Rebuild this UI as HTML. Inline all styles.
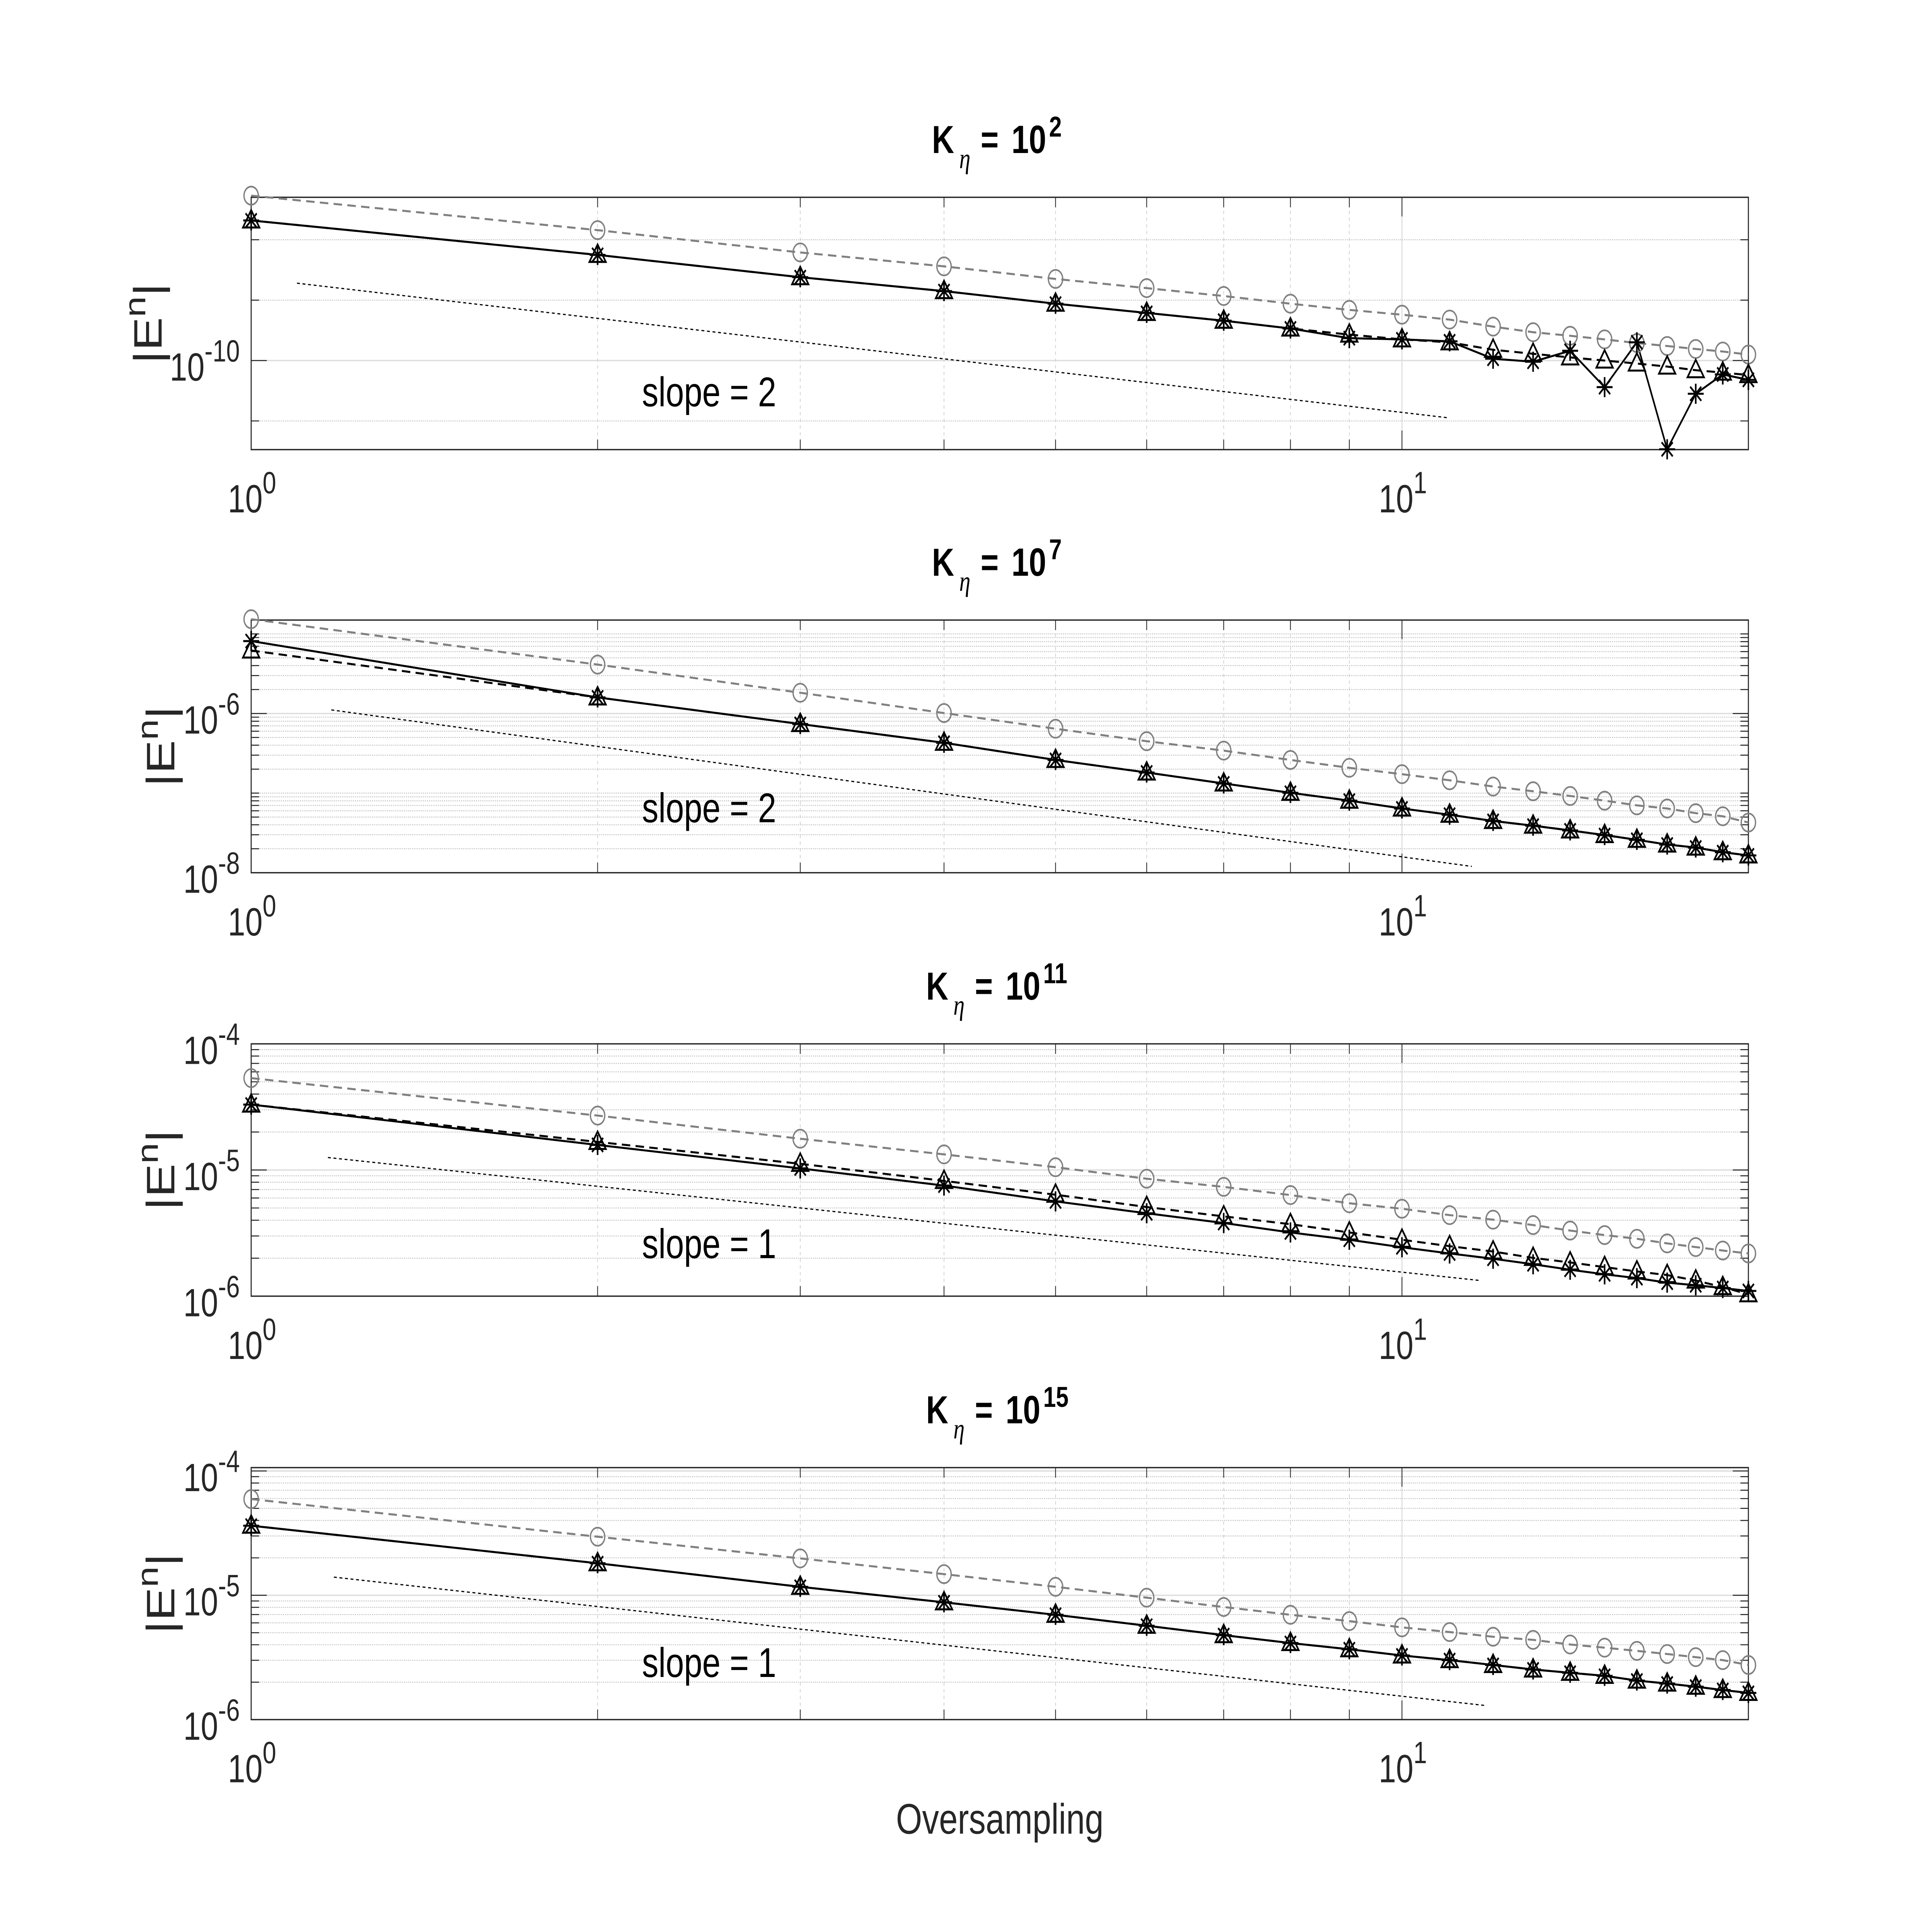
<!DOCTYPE html>
<html>
<head>
<meta charset="utf-8">
<style>
  html,body{margin:0;padding:0;background:#fff;width:100%;height:100%;overflow:hidden;}
  svg{display:block;width:100%;height:100%;}
  text{font-family:"Liberation Sans",Arial,sans-serif;fill:#262626;}
</style>
</head>
<body>
<svg id="fig" xmlns="http://www.w3.org/2000/svg" viewBox="0 0 7292 5758" preserveAspectRatio="none">
  <rect x="0" y="0" width="7292" height="5758" fill="#ffffff"/>
</svg>
<script>
// ---------- data ----------
const oversampling = [1,2,3,4,5,6,7,8,9,10,11,12,13,14,15,16,17,18,19,20];
const titleExponents = ["2","7","11","15"];
const slopeLabels = ["slope = 2","slope = 2","slope = 1","slope = 1"];

const p1Circle = [1.875e-10,1.644e-10,1.510e-10,1.432e-10,1.365e-10,1.318e-10,1.279e-10,1.242e-10,1.213e-10,1.191e-10,1.169e-10,1.138e-10,1.114e-10,1.099e-10,1.084e-10,1.069e-10,1.057e-10,1.045e-10,1.035e-10,1.023e-10];
const p1Tri = [1.706e-10,1.496e-10,1.374e-10,1.303e-10,1.242e-10,1.199e-10,1.164e-10,1.130e-10,1.104e-10,1.084e-10,1.072e-10,1.042e-10,1.026e-10,1.012e-10,1.000e-10,0.9886e-10,0.9772e-10,0.9638e-10,0.9550e-10,0.9462e-10];
const p1Star = [1.706e-10,1.496e-10,1.374e-10,1.303e-10,1.242e-10,1.199e-10,1.164e-10,1.130e-10,1.089e-10,1.084e-10,1.076e-10,1.007e-10,0.9954e-10,1.038e-10,0.9036e-10,1.072e-10,0.7129e-10,0.8810e-10,0.9484e-10,0.9290e-10];

const p2Circle = [1.531e-5,4.12e-6,1.824e-6,1.014e-6,6.44e-7,4.49e-7,3.42e-7,2.61e-7,2.08e-7,1.73e-7,1.45e-7,1.21e-7,1.055e-7,9.21e-8,8.04e-8,7.02e-8,6.41e-8,5.60e-8,5.12e-8,4.27e-8];
const p2Tri = [6.19e-6,1.593e-6,7.38e-7,4.29e-7,2.61e-7,1.815e-7,1.322e-7,1.009e-7,8.04e-8,6.41e-8,5.35e-8,4.47e-8,3.90e-8,3.40e-8,2.97e-8,2.59e-8,2.26e-8,2.07e-8,1.81e-8,1.65e-8];
const p2Star = [8.13e-6,1.593e-6,7.38e-7,4.29e-7,2.61e-7,1.815e-7,1.322e-7,1.009e-7,8.04e-8,6.41e-8,5.35e-8,4.47e-8,3.90e-8,3.40e-8,2.97e-8,2.59e-8,2.26e-8,2.07e-8,1.81e-8,1.65e-8];

const p3Circle = [5.35e-5,2.70e-5,1.77e-5,1.33e-5,1.052e-5,8.53e-6,7.35e-6,6.33e-6,5.45e-6,4.93e-6,4.39e-6,4.04e-6,3.66e-6,3.31e-6,3.05e-6,2.85e-6,2.62e-6,2.45e-6,2.30e-6,2.18e-6];
const p3Tri = [3.30e-5,1.67e-5,1.12e-5,8.20e-6,6.37e-6,5.09e-6,4.29e-6,3.72e-6,3.20e-6,2.80e-6,2.49e-6,2.26e-6,2.01e-6,1.85e-6,1.70e-6,1.57e-6,1.47e-6,1.33e-6,1.18e-6,1.035e-6];
const p3Star = [3.30e-5,1.58e-5,1.03e-5,7.53e-6,5.64e-6,4.54e-6,3.80e-6,3.20e-6,2.80e-6,2.44e-6,2.18e-6,1.98e-6,1.79e-6,1.62e-6,1.49e-6,1.39e-6,1.28e-6,1.22e-6,1.16e-6,1.10e-6];

const p4Circle = [5.94e-5,2.96e-5,1.98e-5,1.48e-5,1.17e-5,9.57e-6,8.05e-6,6.97e-6,6.20e-6,5.52e-6,5.06e-6,4.64e-6,4.38e-6,4.02e-6,3.79e-6,3.57e-6,3.37e-6,3.18e-6,3.01e-6,2.75e-6];
const p4Tri = [3.63e-5,1.81e-5,1.17e-5,8.78e-6,6.97e-6,5.69e-6,4.78e-6,4.13e-6,3.68e-6,3.28e-6,3.01e-6,2.75e-6,2.53e-6,2.38e-6,2.25e-6,2.06e-6,1.95e-6,1.84e-6,1.73e-6,1.64e-6];
const p4Star = [3.63e-5,1.81e-5,1.17e-5,8.78e-6,6.97e-6,5.69e-6,4.78e-6,4.13e-6,3.68e-6,3.28e-6,3.01e-6,2.75e-6,2.53e-6,2.38e-6,2.25e-6,2.06e-6,1.95e-6,1.84e-6,1.73e-6,1.64e-6];

const slopeX = [[1.096,10.96],[1.174,11.5],[1.166,11.7],[1.18,11.8]];
const slopeY = [[1.343e-10,8.04e-11],[1.11e-6,1.20e-8],[1.256e-5,1.33e-6],[1.40e-5,1.30e-6]];
const slopeLabelPos = [[2.5,8.4e-11],[2.5,4.3e-8],[2.5,2.0e-6],[2.5,2.2e-6]];

const yLabelTicks = [[1e-10],[1e-6,1e-8],[1e-4,1e-5,1e-6],[1e-4,1e-5,1e-6]];
const yLabelTexts = [["-10"],["-6","-8"],["-4","-5","-6"],["-4","-5","-6"]];
const p1MinorGrid = [1.5849e-10,1.2589e-10,0.7943e-10];
const xMajorTicks = [1,10];
const xMajorLabels = ["0","1"];
const xMinorTicks = [2,3,4,5,6,7,8,9];

const circleSeries = [p1Circle,p2Circle,p3Circle,p4Circle];
const triSeries = [p1Tri,p2Tri,p3Tri,p4Tri];
const starSeries = [p1Star,p2Star,p3Star,p4Star];

// ---------- layout ----------
const X0 = 948, X1 = 6599, XMAX = 20;
const panels = [
  {top:588, bottom:1340, logTop:-9.7297, logBot:-10.1475, ylabX:610},
  {top:1848, bottom:2601, logTop:-4.826, logBot:-8, ylabX:658},
  {top:3111, bottom:3863, logTop:-4, logBot:-6, ylabX:658},
  {top:4374, bottom:5125, logTop:-3.973, logBot:-6, ylabX:658}
];
const NS = "http://www.w3.org/2000/svg";
const svg = document.getElementById('fig');
function el(tag, attrs, parent){
  const e = document.createElementNS(NS, tag);
  for (const k in attrs) e.setAttribute(k, attrs[k]);
  (parent||svg).appendChild(e);
  return e;
}
function xScale(v){ return X0 + (X1-X0)*Math.log10(v)/Math.log10(XMAX); }
function yScaleFor(p){ return v => p.top + (p.logTop - Math.log10(v))/(p.logTop-p.logBot)*(p.bottom-p.top); }

panels.forEach((p, i) => {
  const y = yScaleFor(p);
  const g = el('g', {});
  
  

  let minorVals = [];
  if (i === 0) minorVals = p1MinorGrid;
  else {
    for (let d = Math.floor(p.logBot); d <= Math.ceil(p.logTop); d++) {
      for (let m = 1; m <= 9; m++) {
        const v = m*Math.pow(10,d);
        const lv = Math.log10(v);
        if (lv < p.logBot+1e-6 || lv > p.logTop-1e-6) continue;
        if (yLabelTicks[i].some(t => Math.abs(Math.log10(t)-lv) < 1e-6)) continue;
        minorVals.push(v);
      }
    }
  }
  minorVals.forEach(v => {
    const yy = y(v);
    const gl = el('line', {x1:X0, x2:X1, y1:yy, y2:yy, stroke:'#c4c4c4', 'stroke-width':3, 'stroke-dasharray':'4 4'}, g);
    
    
    el('line', {x1:X0, x2:X0+30, y1:yy, y2:yy, stroke:'#262626', 'stroke-width':3}, g);
    el('line', {x1:X1, x2:X1-30, y1:yy, y2:yy, stroke:'#262626', 'stroke-width':3}, g);
  });
  yLabelTicks[i].forEach((v, k) => {
    const yy = y(v);
    if (yy > p.top+2 && yy < p.bottom-2) {
      const gl = el('line', {x1:X0, x2:X1, y1:yy, y2:yy, stroke:'#dedede', 'stroke-width':4}, g);
      
      
    }
    el('line', {x1:X0, x2:X0+59, y1:yy, y2:yy, stroke:'#262626', 'stroke-width':3}, g);
    el('line', {x1:X1, x2:X1-59, y1:yy, y2:yy, stroke:'#262626', 'stroke-width':3}, g);
    const t = el('text', {x:905, y:yy+60, 'text-anchor':'end', 'font-size':118}, g);
    
    
    const a = el('tspan', {}, t); a.textContent = '10';
    const b = el('tspan', {dy:-57, 'font-size':92}, t); b.textContent = yLabelTexts[i][k];
  });
  xMinorTicks.forEach(v => {
    const xx = xScale(v);
    const gl = el('line', {x1:xx, x2:xx, y1:p.top, y2:p.bottom, stroke:'#cccccc', 'stroke-width':2.5, 'stroke-dasharray':'10 10'}, g);
    
    
    el('line', {x1:xx, x2:xx, y1:p.top, y2:p.top+30, stroke:'#262626', 'stroke-width':3}, g);
    el('line', {x1:xx, x2:xx, y1:p.bottom, y2:p.bottom-30, stroke:'#262626', 'stroke-width':3}, g);
  });
  xMajorTicks.forEach((v, k) => {
    const xx = xScale(v);
    if (xx > X0+2) {
      el('line', {x1:xx, x2:xx, y1:p.top, y2:p.bottom, stroke:'#dedede', 'stroke-width':4}, g);
    }
    el('line', {x1:xx, x2:xx, y1:p.top, y2:p.top+57, stroke:'#262626', 'stroke-width':3}, g);
    el('line', {x1:xx, x2:xx, y1:p.bottom, y2:p.bottom-57, stroke:'#262626', 'stroke-width':3}, g);
    const t = el('text', {x:xx-88, y:p.bottom+187, 'font-size':118}, g);
    
    
    const a = el('tspan', {}, t); a.textContent = '10';
    const b = el('tspan', {dy:-57, 'font-size':92}, t); b.textContent = xMajorLabels[k];
  });
  const box = el('rect', {x:X0, y:p.top, width:X1-X0, height:p.bottom-p.top, fill:'none', stroke:'#262626', 'stroke-width':4}, g);
  
  

  const sl = el('line', {x1:xScale(slopeX[i][0]), y1:y(slopeY[i][0]), x2:xScale(slopeX[i][1]), y2:y(slopeY[i][1]), stroke:'#000', 'stroke-width':3.5, 'stroke-dasharray':'11 10'}, g);
  
  
  const st = el('text', {x:xScale(slopeLabelPos[i][0]), y:y(slopeLabelPos[i][1]), 'text-anchor':'middle', 'font-size':124, style:'fill:#000'}, g);
  
  
  st.textContent = slopeLabels[i];

  function path(vals){
    return vals.map((v, k) => (k?'L':'M') + xScale(oversampling[k]).toFixed(1) + ' ' + y(v).toFixed(1)).join(' ');
  }
  const cl = el('path', {d:path(circleSeries[i]), fill:'none', stroke:'#808080', 'stroke-width':6, 'stroke-dasharray':'32 20'}, g);
  
  
  const tl = el('path', {d:path(triSeries[i]), fill:'none', stroke:'#000', 'stroke-width':6, 'stroke-dasharray':'32 20'}, g);
  
  
  const sL = el('path', {d:path(starSeries[i]), fill:'none', stroke:'#000', 'stroke-width':6}, g);
  
  

  circleSeries[i].forEach((v, k) => {
    const c = el('circle', {cx:xScale(oversampling[k]), cy:y(v), r:27, fill:'none', stroke:'#808080', 'stroke-width':5}, g);
    
    
  });
  triSeries[i].forEach((v, k) => {
    const cx = xScale(oversampling[k]), cy = y(v);
    const t = el('path', {d:`M${cx} ${cy-31} L${cx+31} ${cy+21} L${cx-31} ${cy+21} Z`, fill:'none', stroke:'#000', 'stroke-width':6}, g);
    
    
  });
  starSeries[i].forEach((v, k) => {
    const cx = xScale(oversampling[k]), cy = y(v);
    const s = el('path', {d:`M${cx-30} ${cy} L${cx+30} ${cy} M${cx} ${cy-30} L${cx} ${cy+30} M${cx-21} ${cy-21} L${cx+21} ${cy+21} M${cx-21} ${cy+21} L${cx+21} ${cy-21}`, fill:'none', stroke:'#000', 'stroke-width':6}, g);
    
    
  });

  const yl = el('text', {transform:`translate(${p.ylabX},${(p.top+p.bottom)/2}) rotate(-90)`, 'text-anchor':'middle', 'font-size':150}, g);
  
  
  const y1 = el('tspan', {}, yl); y1.textContent = '|E';
  const y2 = el('tspan', {dy:-62, 'font-size':112}, yl); y2.textContent = 'n';
  const y3 = el('tspan', {dy:62}, yl); y3.textContent = '|';

  const cx = (X0+X1)/2 + (titleExponents[i].length === 1 ? 22 : 0);
  const tb = p.top - 132;
  const tg = el('g', {}, g);
  
  
  const tk = el('text', {x:cx-278, y:tb, 'font-size':116, 'font-weight':'bold', style:'fill:#000'}, tg); tk.textContent = 'K';
  const te = el('text', {x:cx-175, y:tb+45, 'font-size':85, 'font-style':'italic', style:'font-family:"Liberation Serif",serif;fill:#000'}, tg); te.textContent = 'η';
  const tq = el('text', {x:cx-94, y:tb, 'font-size':116, 'font-weight':'bold', style:'fill:#000'}, tg); tq.textContent = '=';
  const tt = el('text', {x:cx+22, y:tb, 'font-size':118, 'font-weight':'bold', style:'fill:#000'}, tg); tt.textContent = '10';
  const ts = el('text', {x:cx+164, y:tb-49, 'font-size':86, 'font-weight':'bold', style:'fill:#000'}, tg); ts.textContent = titleExponents[i];
});

const xl = el('text', {x:(X0+X1)/2, y:5465, 'text-anchor':'middle', 'font-size':127});


xl.textContent = 'Oversampling';
</script>
</body>
</html>
